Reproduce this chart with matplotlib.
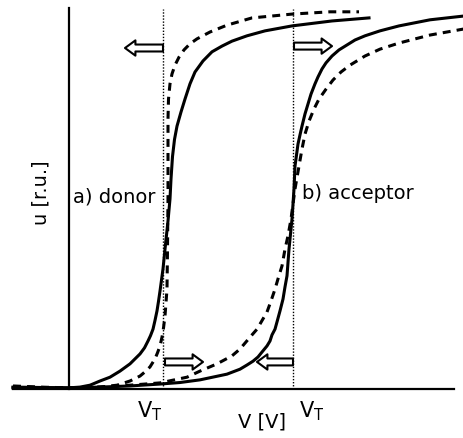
import matplotlib
matplotlib.use("Agg")
import matplotlib.pyplot as plt

# threshold voltages (donor / acceptor), arbitrary volt units
vt_donor = 0.94
vt_acceptor = 2.24

# donor: solid and dashed transfer curves
donor_solid_v = [-0.56, -0.29, 0.0, 0.11, 0.21, 0.31, 0.41, 0.51, 0.61, 0.71, 0.755, 0.79,
                 0.815, 0.84, 0.86, 0.88, 0.895, 0.91, 0.94, 0.96, 0.99, 1.01, 1.02, 1.035,
                 1.055, 1.08, 1.12, 1.16, 1.21, 1.26, 1.34, 1.43, 1.53, 1.63, 1.78, 1.96,
                 2.23, 2.63, 3.00]
donor_solid_u = [0.005, 0.004, 0.003, 0.005, 0.010, 0.021, 0.031, 0.047, 0.066, 0.092, 0.108, 0.126,
                 0.140, 0.157, 0.180, 0.205, 0.230, 0.257, 0.315, 0.367, 0.441, 0.499, 0.551, 0.610,
                 0.655, 0.690, 0.727, 0.761, 0.801, 0.832, 0.861, 0.885, 0.900, 0.913, 0.927, 0.940,
                 0.953, 0.966, 0.974]

donor_dash_v = [-0.56, -0.29, 0.0, 0.31, 0.48, 0.61, 0.71, 0.76, 0.81, 0.86, 0.885, 0.91,
                0.93, 0.945, 0.96, 0.98, 0.985, 0.99, 0.99, 0.99, 0.995, 1.01, 1.03, 1.06,
                1.10, 1.15, 1.21, 1.28, 1.41, 1.58, 1.83, 2.23, 2.61, 2.90]
donor_dash_u = [0.008, 0.005, 0.003, 0.005, 0.010, 0.021, 0.034, 0.045, 0.058, 0.079, 0.095, 0.113,
                0.136, 0.160, 0.192, 0.262, 0.367, 0.499, 0.630, 0.709, 0.761, 0.801, 0.827, 0.850,
                0.871, 0.890, 0.906, 0.919, 0.937, 0.955, 0.974, 0.984, 0.990, 0.990]

# acceptor: solid and dashed transfer curves
acc_solid_v = [-0.56, -0.29, 0.0, 0.31, 0.61, 0.91, 1.11, 1.31, 1.58, 1.71, 1.78, 1.84,
               1.89, 1.93, 1.98, 2.01, 2.03, 2.06, 2.08, 2.11, 2.14, 2.16, 2.18, 2.20,
               2.22, 2.23, 2.25, 2.26, 2.29, 2.31, 2.33, 2.36, 2.39, 2.42, 2.46, 2.49,
               2.53, 2.57, 2.63, 2.70, 2.78, 2.86, 2.96, 3.11, 3.30, 3.61, 3.95]
acc_solid_u = [0.003, 0.003, 0.003, 0.005, 0.008, 0.013, 0.017, 0.024, 0.039, 0.052, 0.063, 0.073,
               0.084, 0.097, 0.113, 0.126, 0.142, 0.157, 0.176, 0.205, 0.236, 0.268, 0.297, 0.367,
               0.420, 0.446, 0.525, 0.585, 0.643, 0.667, 0.690, 0.722, 0.748, 0.774, 0.801, 0.819,
               0.840, 0.856, 0.874, 0.890, 0.903, 0.916, 0.927, 0.940, 0.953, 0.969, 0.979]

acc_dash_v = [-0.56, -0.29, 0.0, 0.31, 0.61, 0.91, 1.18, 1.31, 1.48, 1.63, 1.71, 1.83,
              1.88, 1.94, 1.98, 2.02, 2.06, 2.09, 2.13, 2.16, 2.19, 2.22, 2.26, 2.30,
              2.33, 2.36, 2.40, 2.45, 2.50, 2.57, 2.64, 2.72, 2.81, 2.96, 3.11, 3.30,
              3.61, 3.95]
acc_dash_u = [0.006, 0.004, 0.003, 0.005, 0.010, 0.016, 0.031, 0.047, 0.066, 0.087, 0.105, 0.142,
              0.157, 0.184, 0.202, 0.231, 0.262, 0.289, 0.323, 0.367, 0.402, 0.446, 0.525, 0.585,
              0.630, 0.669, 0.703, 0.735, 0.761, 0.787, 0.811, 0.832, 0.850, 0.874, 0.892, 0.908,
              0.929, 0.945]

# shift arrows: (tail_v, tip_v, u)
arrows = [
    (0.94, 0.56, 0.895),
    (2.25, 2.63, 0.900),
    (0.96, 1.34, 0.071),
    (2.24, 1.88, 0.071),
]

fig = plt.figure(figsize=(4.64, 4.39), dpi=100)
ax = fig.add_axes([13 / 464, (439 - 390) / 439, (454 - 13) / 464, (390 - 9) / 439])
ax.set_xlim(-0.56, 3.85)
ax.set_ylim(0, 1.0)

ax.spines["top"].set_visible(False)
ax.spines["right"].set_visible(False)
ax.spines["left"].set_position(("data", 0))
ax.spines["left"].set_linewidth(1.6)
ax.spines["bottom"].set_linewidth(1.6)
ax.set_xticks([])
ax.set_yticks([])

lw = 2.2
ax.plot(donor_solid_v, donor_solid_u, color="black", lw=lw, clip_on=False)
ax.plot(donor_dash_v, donor_dash_u, color="black", lw=lw, dashes=(2.6, 2.0), clip_on=False)
ax.plot(acc_solid_v, acc_solid_u, color="black", lw=lw, clip_on=False)
ax.plot(acc_dash_v, acc_dash_u, color="black", lw=lw, dashes=(2.6, 2.0), clip_on=False)

# threshold markers
for vt in (vt_donor, vt_acceptor):
    ax.plot([vt, vt], [0, 0.997], color="black", lw=1.0, dashes=(1, 1.2), clip_on=False)

for tail, tip, u in arrows:
    ax.annotate("", xy=(tip, u), xytext=(tail, u),
                arrowprops=dict(arrowstyle="simple,head_length=0.75,head_width=1.1,tail_width=0.5",
                                fc="white", ec="black", lw=1.5, shrinkA=0, shrinkB=0,
                                mutation_scale=10))

fs = 14
ax.text(0.04, 0.507, "a) donor", fontsize=fs, ha="left", va="center")
ax.text(2.33, 0.517, "b) acceptor", fontsize=fs, ha="left", va="center")
ax.text(-0.28, 0.517, "u [r.u.]", fontsize=fs, rotation=90, ha="center", va="center")
ax.text(0.805, -0.024, r"V$_\mathregular{T}$", fontsize=15, ha="center", va="top")
ax.text(2.425, -0.024, r"V$_\mathregular{T}$", fontsize=15, ha="center", va="top")
ax.text(1.925, -0.058, "V [V]", fontsize=fs, ha="center", va="top")

fig.savefig("out.png", dpi=100)
